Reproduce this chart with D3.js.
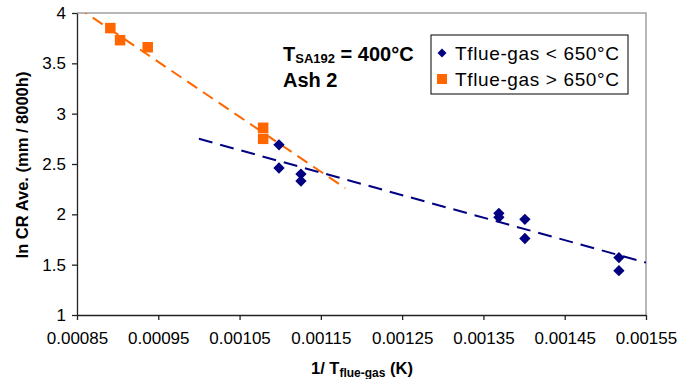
<!DOCTYPE html>
<html><head><meta charset="utf-8">
<script src="https://cdn.jsdelivr.net/npm/d3@7"></script>
<style>body{margin:0;background:#fff;} text{font-family:"Liberation Sans",Arial,sans-serif;}</style>
</head><body>
<svg id="c" width="691" height="379"></svg>
<script>
const xTicks = [0.00085,0.00095,0.00105,0.00115,0.00125,0.00135,0.00145,0.00155];
const yTicks = [1,1.5,2,2.5,3,3.5,4];
const lowX = [0.0010985,0.0010985,0.0011255,0.0011255,0.001369,0.001369,0.001401,0.001401,0.0015167,0.0015167];
const lowY = [2.69,2.46,2.40,2.33,2.01,1.97,1.95,1.76,1.57,1.44];
const highX = [0.000891,0.000903,0.000937,0.001079,0.001079];
const highY = [3.85,3.73,3.66,2.86,2.75];
const lowTrendX = [0.0010,0.00155];
const lowTrendY = [2.75,1.52];
const highTrendX = [0.00085,0.00118];
const highTrendY = [4.06,2.26];

const svg = d3.select("#c");
const L=77,R=646,T=13,B=315;
const x = d3.scaleLinear().domain([0.00085,0.00155]).range([L,R]);
const y = d3.scaleLinear().domain([1,4]).range([B,T]);

svg.append("defs").append("clipPath").attr("id","clip").append("rect")
  .attr("x",L).attr("y",T).attr("width",R-L).attr("height",B-T);

svg.append("path").attr("d",`M${L},${T}H${R}V${B}`).attr("fill","none").attr("stroke","#a0a0a0").attr("stroke-width",1.5);

const xa = svg.append("g").attr("transform",`translate(0,${B})`)
  .call(d3.axisBottom(x).tickValues(xTicks).tickFormat(d3.format(".5f")).tickSize(5).tickSizeOuter(0));
const ya = svg.append("g").attr("transform",`translate(${L},0)`)
  .call(d3.axisLeft(y).tickValues(yTicks).tickFormat(d=>String(d)).tickSize(5).tickSizeOuter(0));
[xa,ya].forEach(a=>{
  a.selectAll("path,line").attr("stroke","#222").attr("stroke-width",1.3);
  a.selectAll("text").attr("font-size",17).attr("fill","#000").style("font-family","Liberation Sans, Arial, sans-serif");
});
xa.selectAll("text").attr("y",29).attr("dy",0);
ya.selectAll("text").attr("x",-11);

const g = svg.append("g").attr("clip-path","url(#clip)");
const line = d3.line().x(d=>x(d[0])).y(d=>y(d[1]));
g.append("path").datum(highTrendX.map((v,i)=>[v,highTrendY[i]])).attr("d",line)
  .attr("fill","none").attr("stroke","#ff6600").attr("stroke-width",2).attr("stroke-dasharray","12,7");
g.append("path").datum(lowTrendX.map((v,i)=>[v,lowTrendY[i]])).attr("d",line)
  .attr("fill","none").attr("stroke","#000080").attr("stroke-width",2).attr("stroke-dasharray","14,8");

const sq = d3.symbol().type(d3.symbolSquare).size(110);
svg.append("g").selectAll("path").data(highX.map((v,i)=>[v,highY[i]])).join("path")
  .attr("d",sq).attr("transform",d=>`translate(${x(d[0])},${y(d[1])})`).attr("fill","#ff6600");
svg.append("g").selectAll("path").data(lowX.map((v,i)=>[v,lowY[i]])).join("path")
  .attr("d",d3.symbol().type(d3.symbolSquare).size(64)).attr("transform",d=>`translate(${x(d[0])},${y(d[1])}) rotate(45)`).attr("fill","#000080");

// legend
const lg = svg.append("g");
lg.append("rect").attr("x",431).attr("y",35).attr("width",197).attr("height",59).attr("fill","#fff").attr("stroke","#000").attr("stroke-width",1);
lg.append("path").attr("d",d3.symbol().type(d3.symbolSquare).size(40)).attr("transform","translate(442,53) rotate(45)").attr("fill","#000080");
lg.append("rect").attr("x",437).attr("y",74).attr("width",10).attr("height",10).attr("fill","#ff6600");
lg.append("text").attr("x",455).attr("y",60).attr("font-size",19).attr("textLength",164).text("Tflue-gas < 650°C");
lg.append("text").attr("x",455).attr("y",86).attr("font-size",19).attr("textLength",164).text("Tflue-gas > 650°C");

// annotation
const an = svg.append("text").attr("x",283).attr("y",61).attr("font-size",20).attr("font-weight","bold");
an.append("tspan").text("T");
an.append("tspan").attr("font-size",13).attr("dy",2).text("SA192");
an.append("tspan").attr("dy",-2).text(" = 400°C");
svg.append("text").attr("x",283).attr("y",87).attr("font-size",20).attr("font-weight","bold").text("Ash 2");

// axis titles
svg.append("text").attr("transform","translate(28,165) rotate(-90)").attr("text-anchor","middle")
  .attr("font-size",16.5).attr("font-weight","bold").text("ln CR Ave. (mm / 8000h)");
const xt = svg.append("text").attr("x",362).attr("y",374).attr("text-anchor","middle").attr("font-size",16.5).attr("font-weight","bold");
xt.append("tspan").text("1/ T");
xt.append("tspan").attr("font-size",12).attr("dy",3).text("flue-gas");
xt.append("tspan").attr("dy",-3).text(" (K)");
</script>
</body></html>
